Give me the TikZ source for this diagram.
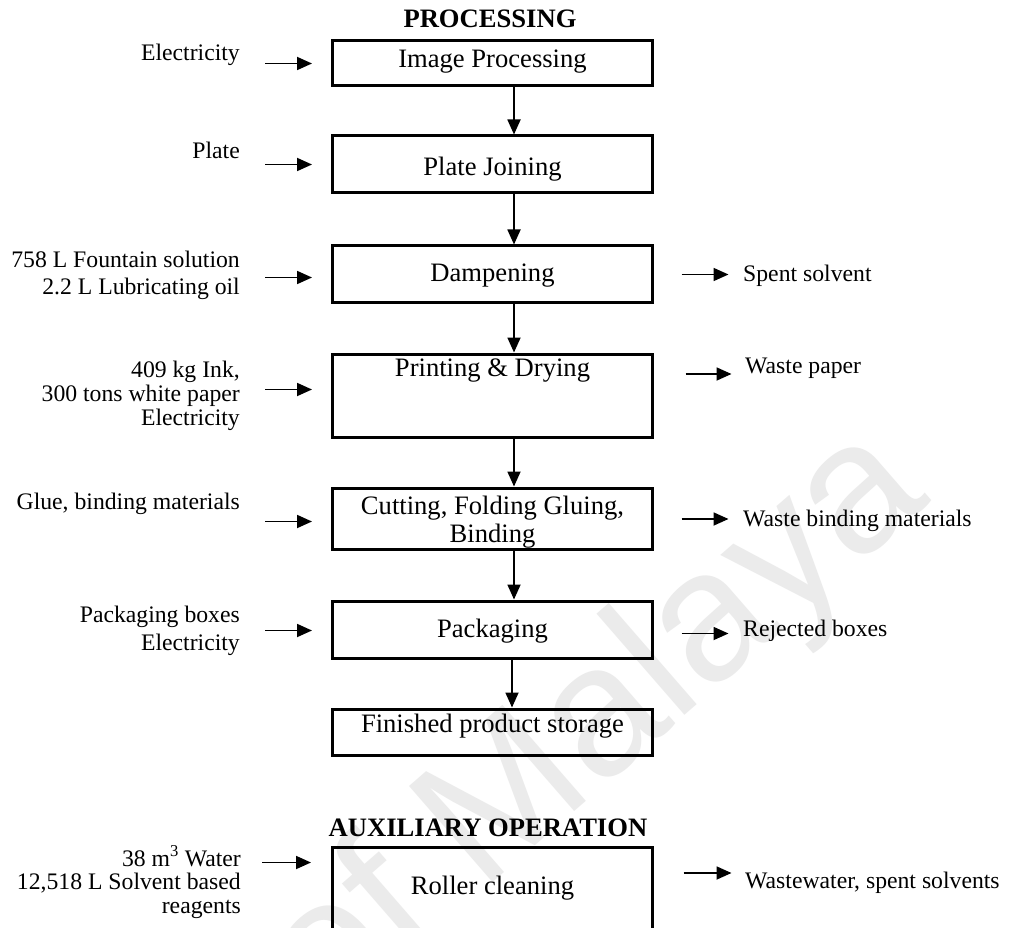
\documentclass[tikz,border=0pt]{standalone}
\usepackage{fontspec}
\setmainfont{Liberation Serif}
\newfontfamily\wmfont{Liberation Sans}
\usetikzlibrary{arrows.meta,calc}
\newcommand\boxfont{\fontsize{26.6pt}{28pt}\selectfont}
\newcommand\sidefont{\fontsize{23.7pt}{28pt}\selectfont}
\newcommand\headfont{\fontsize{26.6pt}{28pt}\selectfont\bfseries}
\begin{document}
\begin{tikzpicture}[x=1pt,y=-1pt,
  stepbox/.style={draw, line width=3pt, inner sep=0pt, minimum width=320pt,
    anchor=north, font=\boxfont, align=center},
  flow/.style={line width=1.8pt, -{Triangle[length=15pt,width=13pt]}},
  inlabel/.style={anchor=base east, inner sep=0pt, font=\sidefont},
  outlabel/.style={anchor=base west, inner sep=0pt, font=\sidefont},
  heading/.style={anchor=base, inner sep=0pt, font=\headfont}]
\clip (0,0) rectangle (1012,928);
\fill[white] (0,0) rectangle (1012,928);

% faint watermark behind the chart
\node[rotate=41, inner sep=0pt, text=black!8,
  font=\wmfont\fontsize{185pt}{185pt}\selectfont] (wm) at (598,728) {of Malaya};

% headings
\node[heading] (hproc) at (490,28) {PROCESSING};
\node[heading] (haux) at (488,836) {AUXILIARY OPERATION};

% process steps
\node[stepbox, text height=26.5pt, text depth=18.5pt] (b1) at (492.5,39.5) {Image Processing};
\node[stepbox, text height=39.5pt, text depth=17.5pt] (b2) at (492.5,134.5) {Plate Joining};
\node[stepbox, text height=35.5pt, text depth=20.5pt] (b3) at (492.5,244.5) {Dampening};
\node[stepbox, text height=22.5pt, text depth=60.5pt] (b4) at (492.5,352.5) {Printing \& Drying};
\node[stepbox, text height=26.5pt, text depth=34.5pt] (b5) at (492.5,486.5)
  {\begin{tabular}[t]{@{}c@{}}Cutting, Folding Gluing,\\Binding\end{tabular}};
\node[stepbox, text height=36.5pt, text depth=20.5pt] (b6) at (492.5,599.5) {Packaging};
\node[stepbox, text height=23.5pt, text depth=22.5pt] (b7) at (492.5,707.5) {Finished product storage};
\node[stepbox, text height=47.5pt, text depth=72.5pt] (b8) at (492.5,845.5) {Roller cleaning};

% main flow
\coordinate (ax) at (514,0);
\coordinate (bx) at (512,0);
\draw[flow] (b1.south -| ax) -- (b2.north -| ax);
\draw[flow] (b2.south -| ax) -- (b3.north -| ax);
\draw[flow] (b3.south -| ax) -- (b4.north -| ax);
\draw[flow] (b4.south -| ax) -- (b5.north -| ax);
\draw[flow] (b5.south -| ax) -- (b6.north -| ax);
\draw[flow] (b6.south -| bx) -- (b7.north -| bx);

% inputs
\node[inlabel] (in1) at (240,61) {Electricity};
\node[inlabel] (in2) at (240,159) {Plate};
\node[inlabel] (in3) at (240,267)
  {\begin{tabular}[t]{@{}r@{}}758 L Fountain solution\\2.2 L Lubricating oil\end{tabular}};
\node[inlabel, font=\fontsize{23.7pt}{24pt}\selectfont] (in4) at (240,377)
  {\begin{tabular}[t]{@{}r@{}}409 kg Ink,\\300 tons white paper\\Electricity\end{tabular}};
\node[inlabel] (in5) at (240,509) {Glue, binding materials};
\node[inlabel] (in6) at (240,622)
  {\begin{tabular}[t]{@{}r@{}}Packaging boxes\\Electricity\end{tabular}};
\node[inlabel, font=\fontsize{23.7pt}{23.5pt}\selectfont] (in8) at (241,866)
  {\begin{tabular}[t]{@{}r@{}}38 m\textsuperscript{3} Water\\12,518 L Solvent based\\reagents\end{tabular}};

\draw[flow] ($(b1.west)+(-66,0)$) -- ($(b1.west)+(-19,0)$);
\draw[flow] ($(b2.west)+(-66,0)$) -- ($(b2.west)+(-19,0)$);
\draw[flow] ($(b3.west)+(-66,3.5)$) -- ($(b3.west)+(-19,3.5)$);
\draw[flow] ($(b4.west)+(-66,-6)$) -- ($(b4.west)+(-19,-6)$);
\draw[flow] ($(b5.west)+(-66,3)$) -- ($(b5.west)+(-19,3)$);
\draw[flow] ($(b6.west)+(-66,1)$) -- ($(b6.west)+(-19,1)$);
\draw[flow] ($(b8.north west)+(-69,17)$) -- ($(b8.north west)+(-20,17)$);

% outputs
\node[outlabel] (out3) at (743,281) {Spent solvent};
\node[outlabel] (out4) at (745,373) {Waste paper};
\node[outlabel] (out5) at (743,526) {Waste binding materials};
\node[outlabel] (out6) at (743,636) {Rejected boxes};
\node[outlabel] (out8) at (745,888) {Wastewater, spent solvents};

\draw[flow] ($(b3.east)+(27.5,0.5)$) -- ($(b3.east)+(74.5,0.5)$);
\draw[flow] ($(b4.east)+(31.5,-21.5)$) -- ($(b4.east)+(77.5,-21.5)$);
\draw[flow] ($(b5.east)+(27.5,0.5)$) -- ($(b5.east)+(74.5,0.5)$);
\draw[flow] ($(b6.east)+(27.5,4)$) -- ($(b6.east)+(74.5,4)$);
\draw[flow] ($(b8.north east)+(29.5,27.5)$) -- ($(b8.north east)+(77.5,27.5)$);
\end{tikzpicture}
\end{document}
